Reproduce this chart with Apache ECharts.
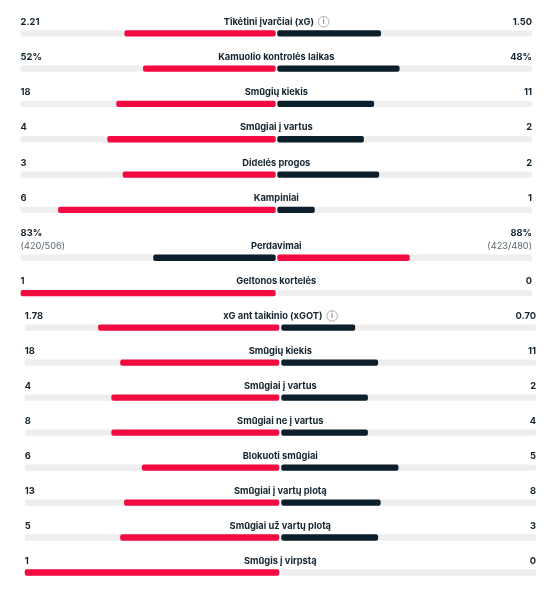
<!DOCTYPE html>
<html><head><meta charset="utf-8">
<style>html,body{margin:0;padding:0;background:#fff}#c{width:553px;height:590px}</style>
<script src="https://cdn.jsdelivr.net/npm/echarts@6/dist/echarts.min.js"></script>
</head><body><div id="c"></div>
<script>
const titlesA = ['Tikėtini įvarčiai (xG)','Kamuolio kontrolės laikas','Smūgių kiekis','Smūgiai į vartus','Didelės progos','Kampiniai'];
const leftTextA = ['2.21','52%','18','4','3','6'];
const rightTextA = ['1.50','48%','11','2','2','1'];
const leftShareA = [0.593,0.52,0.625,0.66,0.60,0.853];
const rightShareA = [0.407,0.48,0.38,0.34,0.40,0.147];

const titlesB = ['Perdavimai','Geltonos kortelės'];
const leftTextB = ['83%\n{sub|(420/506)}','1'];
const rightTextB = ['88%\n{sub|(423/480)}','0'];
const leftShareB = [0.48,1];
const rightShareB = [0.52,0];

const titlesC = ['xG ant taikinio (xGOT)','Smūgių kiekis','Smūgiai į vartus','Smūgiai ne į vartus','Blokuoti smūgiai','Smūgiai į vartų plotą','Smūgiai už vartų plotą','Smūgis į virpstą'];
const leftTextC = ['1.78','18','4','8','6','13','5','1'];
const rightTextC = ['0.70','11','2','4','5','8','3','0'];
const leftShareC = [0.712,0.625,0.66,0.66,0.54,0.61,0.625,1];
const rightShareC = [0.29,0.38,0.34,0.34,0.46,0.39,0.38,0];

const infoRows = ['Tikėtini įvarčiai (xG)','xG ant taikinio (xGOT)'];
const RED = '#f20a40', DARK = '#0c1f2b', TRACK = '#eeeeee', INK = '#14242e';

const blocks = [
  {titles:titlesA,lt:leftTextA,rt:rightTextA,ls:leftShareA,rs:rightShareA,top:15.7,x:[20.6,275.7,277.3,532],swap:[]},
  {titles:titlesB,lt:leftTextB,rt:rightTextB,ls:leftShareB,rs:rightShareB,top:240.1,x:[20.6,275.7,277.3,532],swap:[0]},
  {titles:titlesC,lt:leftTextC,rt:rightTextC,ls:leftShareC,rs:rightShareC,top:310.1,x:[24.8,279.3,281.3,536],swap:[]}
];
const rowH = 35.3, barH = 6.3, gapUp = -2;
const grid=[],xAxis=[],yAxis=[],series=[];
const rich = {
  sub:{fontFamily:'Inter',fontSize:9.2,fontWeight:400,color:'#5a666e',lineHeight:13},
  icon:{width:10.5,height:10.5,align:'center',verticalAlign:'middle',fontFamily:'Inter',fontSize:8,color:'#9a9a9a',
        borderColor:'#a8a8a8',borderWidth:0.9,borderRadius:6}
};
const base = {fontFamily:'Inter',fontSize:9.3,fontWeight:700,color:INK,lineHeight:13,rich,verticalAlign:'bottom'};

function addGrid(left,right,top,h,inv,cats){
  const i = grid.length;
  grid.push({left,width:right-left,top,height:h,containLabel:false});
  xAxis.push({type:'value',gridIndex:i,min:0,max:1,inverse:inv,show:false});
  yAxis.push({type:'category',gridIndex:i,data:cats,inverse:true,show:false});
  return i;
}
function bar(i,name,data,extra){
  series.push(Object.assign({type:'bar',name,xAxisIndex:i,yAxisIndex:i,data,barWidth:barH,barGap:'-100%',silent:true,
    animation:false,itemStyle:{borderRadius:2,color:TRACK}},extra||{}));
}
blocks.forEach(b=>{
  const h=b.titles.length*rowH;
  const L=addGrid(b.x[0],b.x[1],b.top,h,true,b.titles);
  const R=addGrid(b.x[2],b.x[3],b.top,h,false,b.titles);
  bar(L,'trackL',b.lt.map(t=>({value:1,label:{formatter:t}})),{label:{show:true,...base,position:[0,gapUp],align:'left'}});
  bar(L,'left',b.ls.map((v,k)=>({value:v,itemStyle:{color:b.swap.includes(k)?DARK:RED,borderRadius:2}})));
  bar(R,'trackR',b.titles.map(t=>({value:1,label:{formatter:infoRows.includes(t)?t+'  {icon|i}':t}})),
      {label:{show:true,...base,position:[-1,gapUp],align:'center'}});
  bar(R,'rightText',b.rt.map(t=>({value:1,label:{formatter:t}})),
      {itemStyle:{color:'transparent'},label:{show:true,...base,position:['100%',gapUp],align:'right'}});
  bar(R,'right',b.rs.map((v,k)=>({value:v,itemStyle:{color:b.swap.includes(k)?RED:DARK,borderRadius:2}})));
});
const chart=echarts.init(document.getElementById('c'),null,{renderer:'canvas'});
chart.setOption({animation:false,backgroundColor:'#fff',grid,xAxis,yAxis,series});
</script></body></html>
